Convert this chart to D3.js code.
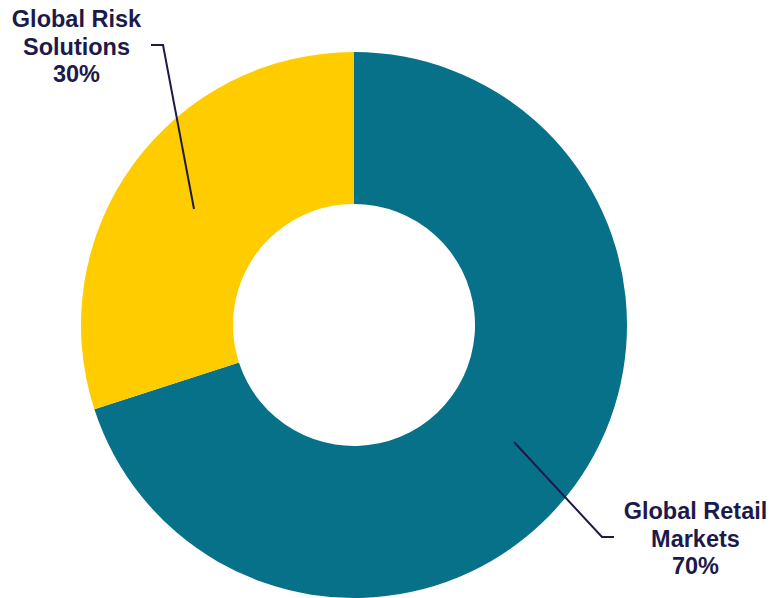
<!DOCTYPE html>
<html><head><meta charset="utf-8">
<script src="https://cdn.jsdelivr.net/npm/d3@7"></script>
<style>html,body{margin:0;padding:0;background:#fff;}svg{display:block;}</style>
</head><body>
<svg id="chart" width="771" height="598"></svg>
<script>
const categories = ["Global Retail Markets", "Global Risk Solutions"];
const values = [70, 30];
const colors = ["#077189", "#FFCC00"];
const labelLines = [["Global Retail", "Markets", "70%"], ["Global Risk", "Solutions", "30%"]];

const svg = d3.select("#chart");
const cx = 354, cy = 325, outerR = 273, innerR = 121;
const g = svg.append("g").attr("transform", `translate(${cx},${cy})`);

const pie = d3.pie().sort(null).value(d => d);
const arcs = pie(values);
const arc = d3.arc().innerRadius(innerR).outerRadius(outerR);

g.selectAll("path.slice").data(arcs).enter().append("path")
  .attr("class", "slice")
  .attr("d", arc)
  .attr("fill", (d, i) => colors[i]);

// leader lines (relative to chart centre)
const leaders = [
  [[160, 117], [248, 212], [260, 212]],
  [[-160, -116], [-191, -280], [-203, -280]]
];
const line = d3.line();
g.selectAll("path.leader").data(leaders).enter().append("path")
  .attr("class", "leader")
  .attr("d", d => line(d))
  .attr("fill", "none")
  .attr("stroke", "#1c1a4a")
  .attr("stroke-width", 2);

const labelPos = [{x: 695.5, y: 519}, {x: 76.5, y: 27}];
labelLines.forEach((lines, i) => {
  const t = svg.append("text")
    .attr("text-anchor", "middle")
    .attr("font-family", "Liberation Sans, Arial, sans-serif")
    .attr("font-weight", "bold")
    .attr("font-size", 23.5)
    .attr("fill", "#1c1a4a");
  lines.forEach((s, j) => {
    t.append("tspan").attr("x", labelPos[i].x).attr("y", labelPos[i].y + j * 27.5).text(s);
  });
});
</script>
</body></html>
